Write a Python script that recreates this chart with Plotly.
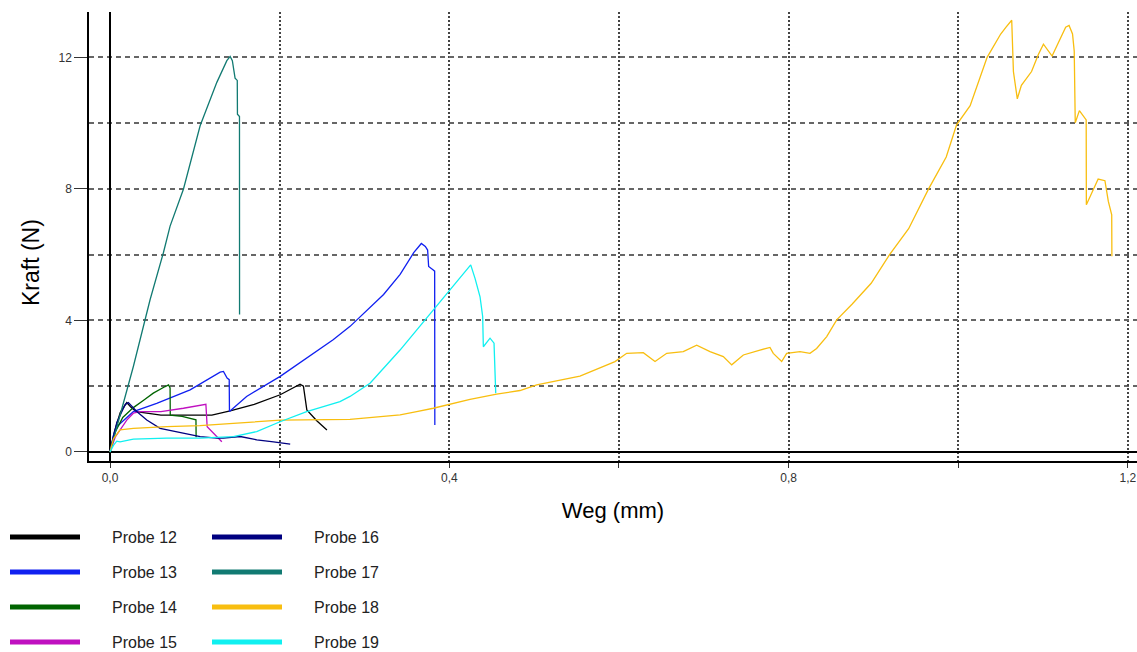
import plotly.graph_objects as go

# ---------------- data ----------------
names = ["Probe 12", "Probe 13", "Probe 14", "Probe 15",
         "Probe 16", "Probe 17", "Probe 18", "Probe 19"]
colors = ["#000000", "#1020F0", "#006400", "#C010C0",
          "#000080", "#117A72", "#F8BE10", "#10F0F0"]

x12 = [0, 0.005, 0.012, 0.0197, 0.025, 0.031, 0.06, 0.094, 0.12, 0.1416, 0.17, 0.2006, 0.224, 0.228, 0.232, 0.2437, 0.2557]
y12 = [0, 0.6, 1.2, 1.50, 1.35, 1.23, 1.12, 1.13, 1.12, 1.25, 1.45, 1.74, 2.06, 2.0, 1.28, 0.95, 0.67]

x13 = [0, 0.004, 0.0079, 0.0275, 0.055, 0.0944, 0.1298, 0.1337, 0.138, 0.1405, 0.1408, 0.161, 0.2006, 0.224, 0.263,
       0.283, 0.3225, 0.342, 0.358, 0.367, 0.3717, 0.3744, 0.3756, 0.3807, 0.3827, 0.3829]
y13 = [0, 0.5, 0.77, 1.23, 1.48, 1.89, 2.43, 2.45, 2.25, 2.2, 1.23, 1.69, 2.30, 2.72, 3.41,
       3.82, 4.79, 5.40, 6.06, 6.34, 6.25, 6.14, 5.64, 5.54, 5.5, 0.82]

x14 = [0, 0.006, 0.015, 0.0275, 0.04, 0.051, 0.065, 0.069, 0.0708, 0.071, 0.085, 0.0995, 0.1013, 0.1015]
y14 = [0, 0.6, 1.05, 1.35, 1.58, 1.79, 1.99, 2.04, 1.95, 1.12, 1.08, 1.0, 0.98, 0.45]

x15 = [0, 0.006, 0.0197, 0.0275, 0.0354, 0.06, 0.0865, 0.1062, 0.113, 0.1145, 0.1219, 0.1278, 0.1318]
y15 = [0, 0.45, 0.97, 1.18, 1.23, 1.23, 1.33, 1.43, 1.45, 0.77, 0.57, 0.42, 0.31]

x16 = [0, 0.008, 0.018, 0.0216, 0.0315, 0.0433, 0.059, 0.0865, 0.1062, 0.126, 0.1337, 0.1534, 0.173, 0.1927, 0.2124]
y16 = [0, 0.9, 1.45, 1.50, 1.23, 0.97, 0.72, 0.57, 0.47, 0.42, 0.42, 0.47, 0.37, 0.31, 0.24]

x17 = [0, 0.0275, 0.0472, 0.0629, 0.0708, 0.0865, 0.1062, 0.1259, 0.1377, 0.1416, 0.1442, 0.1474, 0.1500, 0.1502, 0.1526, 0.1527]
y17 = [0, 2.6, 4.63, 6.06, 6.87, 7.99, 9.92, 11.24, 11.9, 12.03, 11.9, 11.37, 11.3, 10.27, 10.2, 4.18]

x18 = [0, 0.004, 0.0118, 0.0275, 0.0668, 0.106, 0.1453, 0.2004, 0.2829, 0.3065, 0.3222, 0.342, 0.3615, 0.3811,
       0.4244, 0.4558, 0.4833, 0.503, 0.554, 0.5953, 0.6091, 0.6287, 0.6425, 0.6563, 0.6758, 0.6916, 0.7073,
       0.723, 0.7329, 0.7466, 0.7662, 0.778, 0.7819, 0.7918, 0.7977, 0.8134, 0.8252, 0.833, 0.8449, 0.8567,
       0.875, 0.8973, 0.919, 0.9415, 0.965, 0.9858, 0.998, 1.014, 1.034, 1.050, 1.0563, 1.063, 1.065, 1.0696,
       1.0744, 1.0864, 1.0944, 1.1004, 1.1106, 1.1186, 1.1266, 1.1306, 1.1347, 1.1367, 1.1379, 1.1428, 1.1488,
       1.1508, 1.1510, 1.1568, 1.1649, 1.1729, 1.1769, 1.1809, 1.1811]
y18 = [0, 0.4, 0.67, 0.72, 0.77, 0.80, 0.87, 0.97, 0.99, 1.05, 1.07, 1.13, 1.23, 1.33,
       1.60, 1.76, 1.87, 2.04, 2.31, 2.75, 3.0, 3.02, 2.75, 3.0, 3.05, 3.25, 3.05,
       2.9, 2.65, 2.95, 3.1, 3.18, 3.0, 2.75, 3.0, 3.05, 3.0, 3.15, 3.51, 4.02,
       4.5, 5.13, 6.0, 6.79, 8.0, 8.97, 9.95, 10.53, 12.0, 12.71, 12.92, 13.13, 11.57, 10.74,
       11.15, 11.57, 12.09, 12.4, 12.04, 12.5, 12.92, 12.97, 12.71, 12.19, 10.01, 10.38, 10.17,
       10.1, 7.52, 7.83, 8.3, 8.25, 7.62, 7.21, 5.95]

x19 = [0, 0.004, 0.0079, 0.0118, 0.0275, 0.0668, 0.106, 0.1454, 0.1729, 0.2004, 0.2318, 0.2711, 0.2829, 0.3065,
       0.3419, 0.3811, 0.4008, 0.4252, 0.4303, 0.4362, 0.4393, 0.4401, 0.448, 0.4527, 0.4547]
y19 = [0, 0.2, 0.33, 0.31, 0.39, 0.42, 0.42, 0.47, 0.62, 0.92, 1.23, 1.53, 1.69, 2.09,
       3.10, 4.32, 4.93, 5.69, 5.28, 4.72, 4.12, 3.2, 3.46, 3.31, 1.79]

xs_all = [x12, x13, x14, x15, x16, x17, x18, x19]
ys_all = [y12, y13, y14, y15, y16, y17, y18, y19]

x_tickvals = [0, 0.2, 0.4, 0.6, 0.8, 1.0, 1.2]
x_ticktext = ["0,0", "", "0,4", "", "0,8", "", "1,2"]
y_tickvals = [0, 4, 8, 12]
y_ticktext = ["0", "4", "8", "12"]
y_minor = [2, 6, 10]

# ---------------- layout geometry (pixels) ----------------
W, H = 1137, 652
L, R, T, B = 89, 0, 12, 191
PW, PH = W - L - R, H - T - B
FONT = "Liberation Sans, Arial, sans-serif"


def px2paper(px, py):
    return (px - L) / PW, (H - B - py) / PH


fig = go.Figure()
for name, color, xs, ys in zip(names, colors, xs_all, ys_all):
    fig.add_trace(go.Scatter(x=xs, y=ys, mode="lines", name=name,
                             line=dict(color=color, width=1.3), showlegend=False))

# manual legend (two columns, four rows)
shapes, annotations = [], []
for i, (name, color) in enumerate(zip(names, colors)):
    col, row = i // 4, i % 4
    py = 537 + row * 35
    x0, y0 = px2paper(10 + col * 202, py)
    x1, _ = px2paper(80 + col * 202, py)
    shapes.append(dict(type="line", xref="paper", yref="paper", x0=x0, x1=x1, y0=y0, y1=y0,
                       line=dict(color=color, width=5)))
    tx, ty = px2paper(110 + col * 202, py)
    annotations.append(dict(text=name, xref="paper", yref="paper", x=tx, y=ty, xanchor="left",
                            yanchor="middle", showarrow=False, font=dict(size=16, color="#222", family=FONT)))

# y axis title
ax, ay = px2paper(31, 263)
annotations.append(dict(text="Kraft (N)", xref="paper", yref="paper", x=ax, y=ay, textangle=-90,
                        xanchor="center", yanchor="middle", showarrow=False,
                        font=dict(size=23, color="#000", family=FONT)))

fig.update_layout(
    width=W, height=H,
    margin=dict(l=L, r=R, t=T, b=B, pad=0),
    paper_bgcolor="white", plot_bgcolor="white",
    font=dict(family=FONT),
    shapes=shapes, annotations=annotations,
    xaxis=dict(range=[-0.0248, 1.2107], tickvals=x_tickvals, ticktext=x_ticktext,
               showgrid=True, gridcolor="#444", griddash="2px,2px", gridwidth=1.5,
               zeroline=True, zerolinecolor="#000", zerolinewidth=1.5,
               showline=True, linecolor="#000", linewidth=1.5,
               ticks="outside", ticklen=5, tickcolor="#333", tickwidth=1.2,
               tickfont=dict(size=12, color="#333", family=FONT),
               title=dict(text="Weg (mm)", font=dict(size=22, color="#000", family=FONT), standoff=18)),
    yaxis=dict(range=[-0.274, 13.38], tickvals=y_tickvals, ticktext=y_ticktext,
               showgrid=True, gridcolor="#666", griddash="5px,4px", gridwidth=1.5,
               minor=dict(tickvals=y_minor, showgrid=True, gridcolor="#666", griddash="5px,4px",
                          gridwidth=1.5, ticks=""),
               zeroline=True, zerolinecolor="#000", zerolinewidth=1.5,
               showline=True, linecolor="#000", linewidth=1.5,
               ticks="outside", ticklen=13, tickcolor="#333", tickwidth=1.2,
               tickfont=dict(size=12, color="#333", family=FONT)),
)

fig.write_html("out.html", config={"displayModeBar": False},
               post_script="document.body.style.margin='0';")
